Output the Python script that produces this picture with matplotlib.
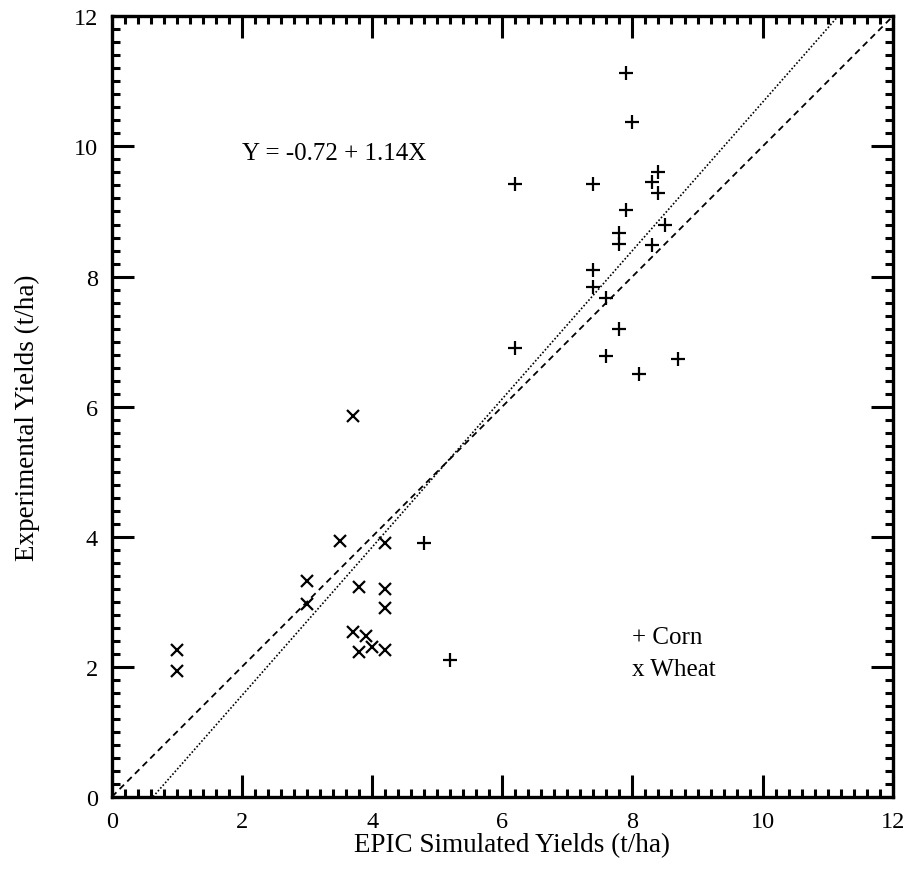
import numpy as np
import matplotlib
matplotlib.use("Agg")
import matplotlib.pyplot as plt
from matplotlib.ticker import MultipleLocator

# Corn yields (simulated, experimental)
corn_sim = [7.9, 8.0, 6.2, 7.4, 8.4, 8.3, 8.4, 7.9, 8.5, 7.8, 7.8, 8.3,
            7.4, 7.4, 7.6, 7.8, 6.2, 7.6, 8.7, 8.1, 4.8, 5.2]
corn_exp = [11.13, 10.37, 9.43, 9.43, 9.6, 9.45, 9.28, 9.02, 8.8, 8.67, 8.5, 8.48,
            8.1, 7.84, 7.67, 7.2, 6.9, 6.78, 6.73, 6.5, 3.9, 2.1]

# Wheat yields (simulated, experimental)
wheat_sim = [3.7, 3.5, 4.2, 3.0, 3.8, 4.2, 3.0, 4.2, 3.7, 3.9, 4.0, 3.8, 4.2, 1.0, 1.0]
wheat_exp = [5.85, 3.93, 3.9, 3.32, 3.22, 3.2, 2.96, 2.9, 2.53, 2.47, 2.3, 2.23, 2.25, 2.25, 1.93]

# regression line, plus the 1:1 line
intercept = -0.72
slope = 1.14

plt.rcParams['font.family'] = ['Liberation Serif', 'DejaVu Serif']

fig = plt.figure(figsize=(9.1, 8.7), dpi=100)
ax = fig.add_axes([0.123, 0.083, 0.858, 0.897])

xx = np.linspace(0, 12, 200)
yy = intercept + slope * xx
ax.plot(xx, yy, color='black', linestyle=(0, (1, 1.2)), linewidth=1.2)
ax.plot([0, 12], [0, 12], color='black', linestyle=(0, (3.5, 2.5)), linewidth=1.3)

ax.plot(corn_sim, corn_exp, linestyle='none', marker='+', markersize=10,
        markeredgewidth=1.6, color='black')
ax.plot(wheat_sim, wheat_exp, linestyle='none', marker='x', markersize=8.5,
        markeredgewidth=1.6, color='black')

ax.text(2.0, 9.9, "Y = -0.72 + 1.14X", fontsize=18, va='center', ha='left')
ax.text(8.0, 2.46, "+ Corn", fontsize=18, va='center', ha='left')
ax.text(8.0, 1.97, "x Wheat", fontsize=18, va='center', ha='left')

ax.set_xlim(0, 12)
ax.set_ylim(0, 12)
ax.xaxis.set_major_locator(MultipleLocator(2))
ax.yaxis.set_major_locator(MultipleLocator(2))
ax.xaxis.set_minor_locator(MultipleLocator(0.2))
ax.yaxis.set_minor_locator(MultipleLocator(0.2))
ax.tick_params(which='both', direction='in', top=True, right=True, labelsize=17.5, pad=10)
ax.tick_params(which='major', length=16, width=2.2)
ax.tick_params(which='minor', length=6, width=2.2)
for s in ax.spines.values():
    s.set_linewidth(2.4)

ax.set_xlabel("EPIC Simulated Yields (t/ha)", fontsize=19.5, labelpad=0, x=0.513)
ax.set_ylabel("Experimental Yields (t/ha)", fontsize=19.5, labelpad=24, y=0.487)

fig.savefig("out.png", dpi=100)
